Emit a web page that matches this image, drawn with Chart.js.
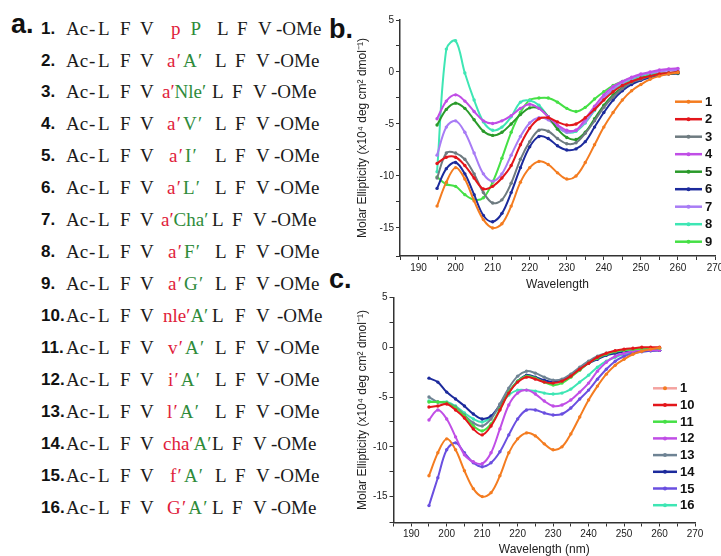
<!DOCTYPE html>
<html><head><meta charset="utf-8">
<script src="https://cdn.jsdelivr.net/npm/chart.js@4/dist/chart.umd.min.js"></script>
<style>
html,body{margin:0;padding:0;width:721px;height:556px;overflow:hidden;background:#fff;}
#wrap{position:relative;width:721px;height:556px;overflow:hidden;}
canvas{position:absolute;}
.lbl{position:absolute;font:bold 27px "Liberation Sans",Arial,sans-serif;line-height:27px;color:#111;}
.row{position:absolute;left:0;height:20px;width:340px;}
.row span.t{position:absolute;top:0;line-height:20px;white-space:nowrap;}
.num{font:bold 17px "Liberation Sans",Arial,sans-serif;color:#111;}
.seq{font:19px "Liberation Serif","Times New Roman",serif;color:#1a1a1a;}
.r{color:#e0203a}.g{color:#2e8b3a}
</style></head>
<body><div id="wrap">
<div class="lbl" style="left:11px;top:10.5px">a.</div>
<div class="lbl" style="left:329px;top:15.5px">b.</div>
<div class="lbl" style="left:329px;top:265.5px">c.</div>
<div id="seqs"></div>
<canvas id="cb" width="366" height="292" style="left:355px;top:0"></canvas>
<canvas id="cc" width="366" height="267" style="left:355px;top:290px"></canvas>
</div>
<script>
// ---------- peptide list (panel a) ----------
const pepNumbers = ['1.','2.','3.','4.','5.','6.','7.','8.','9.','10.','11.','12.','13.','14.','15.','16.'];
const redResidue = ['p','a′','a′','a′','a′','a′','a′','a′','a′','nle′','v′','i′','l′','cha′','f′','G′'];
const greenResidue = ['P','A′','Nle′','V′','I′','L′','Cha′','F′','G′','A′','A′','A′','A′','A′','A′','A′'];

// ---------- CD data (panels b, c) ----------
const wavelengths = [195,197.5,200,202.5,205,207.5,210,212.5,215,217.5,220,222.5,225,227.5,230,232.5,235,237.5,240,242.5,245,247.5,250,252.5,255,257.5,260];
const p1  = [-12.9,-10.6,-9.2,-10.3,-12.4,-14.2,-15.0,-14.6,-12.9,-10.6,-9.2,-8.6,-8.9,-9.7,-10.3,-10.0,-8.7,-7.0,-5.3,-3.9,-2.7,-1.8,-1.2,-0.7,-0.4,-0.2,-0.05];
const p2  = [-8.8,-8.2,-8.2,-9.0,-10.2,-11.25,-11.0,-10.2,-9.0,-7.0,-5.4,-4.5,-4.4,-4.8,-5.1,-5.0,-4.4,-3.6,-2.7,-1.9,-1.3,-0.9,-0.6,-0.4,-0.2,-0.1,0.0];
const p3  = [-10.2,-7.8,-7.8,-8.4,-9.8,-11.6,-12.6,-12.3,-10.7,-8.4,-6.7,-5.6,-5.7,-6.4,-6.9,-6.8,-5.9,-4.7,-3.4,-2.4,-1.6,-1.0,-0.7,-0.4,-0.25,-0.1,0.0];
const p4  = [-4.5,-2.8,-2.2,-2.8,-3.8,-4.7,-4.95,-4.7,-4.2,-3.5,-3.1,-3.5,-4.3,-5.1,-5.6,-5.6,-4.5,-3.3,-2.2,-1.4,-0.9,-0.5,-0.2,0.0,0.2,0.3,0.35];
const p5  = [-5.1,-3.6,-3.0,-3.5,-4.6,-5.7,-6.1,-5.8,-5.0,-4.1,-3.45,-3.5,-4.3,-5.5,-6.3,-6.5,-5.8,-4.5,-3.2,-2.2,-1.5,-1.0,-0.6,-0.4,-0.25,-0.15,-0.1];
const p6  = [-11.2,-9.3,-8.7,-9.8,-11.8,-13.8,-14.4,-13.6,-11.6,-9.2,-7.2,-6.2,-6.4,-7.1,-7.5,-7.4,-6.7,-5.3,-3.9,-2.7,-1.8,-1.2,-0.8,-0.5,-0.3,-0.2,-0.15];
const p7  = [-8.0,-5.3,-4.7,-5.8,-7.8,-9.8,-10.5,-9.8,-8.0,-6.2,-4.9,-4.4,-4.6,-5.3,-5.8,-5.6,-4.8,-3.6,-2.5,-1.6,-1.0,-0.6,-0.3,-0.1,0.05,0.15,0.2];
const p8  = [-9.6,2.2,3.0,-0.1,-2.7,-4.8,-5.6,-5.3,-4.3,-2.9,-2.75,-3.2,-4.3,-5.3,-5.8,-5.7,-4.9,-3.7,-2.6,-1.8,-1.2,-0.8,-0.5,-0.3,-0.2,-0.1,-0.05];
const p9  = [-10.1,-10.8,-11.0,-11.8,-12.3,-12.1,-10.6,-8.3,-5.8,-3.9,-2.7,-2.5,-2.5,-2.9,-3.5,-3.8,-3.4,-2.6,-1.9,-1.3,-0.9,-0.6,-0.4,-0.25,-0.15,-0.1,-0.1];
const p10 = [-6.0,-5.9,-5.7,-6.3,-7.1,-8.2,-8.8,-7.9,-6.3,-4.6,-3.5,-3.0,-3.2,-3.5,-3.6,-3.4,-2.9,-2.2,-1.6,-1.0,-0.6,-0.35,-0.2,-0.1,0.0,0.0,0.0];
const p11 = [-5.5,-5.5,-5.6,-6.1,-6.9,-7.9,-8.4,-7.7,-6.2,-4.5,-3.4,-2.9,-3.1,-3.5,-3.8,-3.6,-3.0,-2.3,-1.6,-1.1,-0.7,-0.45,-0.3,-0.2,-0.15,-0.1,-0.1];
const p12 = [-7.3,-6.3,-7.2,-9.0,-10.8,-11.5,-11.7,-10.6,-8.2,-5.8,-4.6,-4.3,-4.7,-5.4,-5.9,-5.8,-5.3,-4.5,-3.6,-2.4,-1.5,-0.9,-0.6,-0.4,-0.3,-0.3,-0.3];
const p13 = [-5.0,-5.5,-5.6,-6.0,-6.8,-7.6,-7.9,-7.2,-5.7,-4.1,-2.9,-2.4,-2.6,-3.0,-3.3,-3.2,-2.7,-2.0,-1.4,-0.9,-0.6,-0.4,-0.25,-0.2,-0.15,-0.1,-0.1];
const p14 = [-3.1,-3.5,-4.5,-5.2,-5.9,-6.7,-7.2,-6.9,-5.8,-4.5,-3.4,-2.8,-3.0,-3.3,-3.5,-3.3,-2.8,-2.2,-1.6,-1.2,-0.8,-0.6,-0.45,-0.4,-0.35,-0.3,-0.3];
const p15 = [-15.9,-13.1,-10.3,-9.6,-10.6,-11.6,-12.0,-11.6,-10.5,-8.8,-7.2,-6.3,-6.3,-6.6,-6.8,-6.7,-6.1,-5.2,-4.3,-3.2,-2.2,-1.4,-0.9,-0.6,-0.45,-0.35,-0.3];
const p16 = [-5.4,-5.5,-5.5,-5.9,-6.6,-7.2,-7.5,-7.0,-5.9,-4.8,-4.3,-4.3,-4.4,-4.6,-4.7,-4.6,-4.2,-3.5,-2.8,-2.0,-1.4,-1.0,-0.7,-0.5,-0.4,-0.35,-0.3];

const labelsB = ['1','2','3','4','5','6','7','8','9'];
const seriesB = [p1,p2,p3,p4,p5,p6,p7,p8,p9];
const colorsB = ['#f47c20','#e3161b','#6e7b80','#c04ee6','#2a9a2a','#1c2a9c','#a87cf5','#3ee6b4','#45e045'];
const labelsC = ['1','10','11','12','13','14','15','16'];
const seriesC = [p1,p10,p11,p12,p13,p14,p15,p16];
const colorsC = ['#f47c20','#e3161b','#45e045','#c04ee6','#6e8394','#1c2a9c','#6a4fe0','#3ee6b4'];
const legendColorsC = ['#f4a3a0','#e3161b','#45e045','#c04ee6','#6e8394','#1c2a9c','#6a4fe0','#3ee6b4'];

// ---------- panel a layout ----------
(function(){
  const midX = [171,167,162,167,169,167,161,168,168,163,168,168,167,163,170,167];
  const greenGap = [10,1,0,1,1,1,0,1,1,0,1,1,1,0,1,1];
  const spacing = [0,1.2,0,1.2,1.2,1.2,0,1.2,1.2,0,1.2,1.2,1.2,0,1.2,1.2];
  const sufX = [217,215,212,215,215,215,212,215,215,212,215,215,215,212,215,212];
  const host = document.getElementById('seqs');
  pepNumbers.forEach((n,i)=>{
    const yc = 28.6 + 31.94*i;
    const row = document.createElement('div');
    row.className = 'row';
    row.style.top = (yc-10)+'px';
    let h = `<span class="t num" style="left:41px">${n}</span>`;
    h += `<span class="t seq" style="left:66px">Ac</span><span class="t seq" style="left:89px">-</span>`;
    h += `<span class="t seq" style="left:98px">L</span><span class="t seq" style="left:120px">F</span><span class="t seq" style="left:140px">V</span>`;
    h += `<span class="t seq" style="left:${midX[i]}px;letter-spacing:${spacing[i]}px"><span class="r">${redResidue[i]}</span><span class="g" style="margin-left:${greenGap[i]}px">${greenResidue[i]}</span></span>`;
    const s = sufX[i];
    const extra = i===9 ? 3 : 0;
    h += `<span class="t seq" style="left:${s}px">L</span><span class="t seq" style="left:${s+20+extra}px">F</span><span class="t seq" style="left:${s+41+extra}px">V</span>`;
    h += `<span class="t seq" style="left:${s+59+extra*2}px">-OMe</span>`;
    row.innerHTML = h;
    host.appendChild(row);
  });
})();

// ---------- charts ----------
const FONT = '"Liberation Sans", Arial, sans-serif';
Chart.defaults.font.family = FONT;
Chart.defaults.color = '#222';

const sideLegend = {
  id: 'sideLegend',
  afterDatasetsDraw(chart, args, opts) {
    const ctx = chart.ctx;
    ctx.save();
    chart.data.datasets.forEach((ds, i) => {
      const y = opts.y0 + i * opts.step;
      ctx.strokeStyle = ds.legendColor || ds.borderColor;
      ctx.lineWidth = 2.5;
      ctx.beginPath(); ctx.moveTo(opts.x1, y); ctx.lineTo(opts.x2, y); ctx.stroke();
      ctx.fillStyle = ds.borderColor;
      ctx.beginPath(); ctx.arc((opts.x1 + opts.x2) / 2, y, 2, 0, Math.PI * 2); ctx.fill();
      ctx.fillStyle = '#111';
      ctx.font = 'bold 13px ' + FONT;
      ctx.textBaseline = 'middle';
      ctx.textAlign = 'left';
      ctx.fillText(ds.label, opts.x2 + 3, y + 0.5);
    });
    ctx.restore();
  }
};

function makeDatasets(labels, series, colors, legendColors) {
  return series.map((vals, k) => ({
    label: labels[k],
    data: vals.map((v, i) => ({ x: wavelengths[i], y: v })),
    borderColor: colors[k],
    backgroundColor: colors[k],
    pointBackgroundColor: colors[k],
    pointBorderWidth: 0,
    pointRadius: 1.7,
    borderWidth: 2,
    tension: 0.35,
    fill: false,
    legendColor: legendColors ? legendColors[k] : colors[k]
  }));
}

function makeScales(xTitle, yMin, yWidth, xHeight) {
  return {
    x: {
      type: 'linear', min: 185, max: 270,
      afterFit(s) { s.height = xHeight; s.paddingLeft = 0; s.paddingRight = 0; },
      ticks: { stepSize: 5, autoSkip: false, maxRotation: 0, color: '#222', padding: 2,
        font: { size: 10 }, callback: v => Math.abs(v % 10) < 1e-6 ? String(v) : '' },
      grid: { drawOnChartArea: false, drawTicks: true, tickLength: 4, color: '#333' },
      border: { display: true, color: '#333', width: 1.5 },
      title: { display: true, text: xTitle, color: '#222', font: { size: 12 }, padding: { top: 0, bottom: 0 } }
    },
    y: {
      type: 'linear', min: yMin, max: 5,
      afterFit(s) { s.width = yWidth; s.paddingTop = 0; s.paddingBottom = 0; },
      ticks: { stepSize: 2.5, autoSkip: false, color: '#222', padding: 2,
        font: { size: 10 }, callback: v => Math.abs(v % 5) < 1e-6 ? String(Math.round(v)) : '' },
      grid: { drawOnChartArea: false, drawTicks: true, tickLength: 4, color: '#333' },
      border: { display: true, color: '#333', width: 1.5 },
      title: { display: true, text: 'Molar Ellipticity (x10⁴ deg cm² dmol⁻¹)', color: '#222',
        font: { size: 12 }, padding: { top: 0, bottom: 0 } }
    }
  };
}

new Chart(document.getElementById('cb'), {
  type: 'line',
  data: { datasets: makeDatasets(labelsB, seriesB, colorsB) },
  options: {
    responsive: false, animation: false, devicePixelRatio: 1,
    layout: { padding: { left: 0, right: 6, top: 20, bottom: 0 } },
    scales: makeScales('Wavelength', -17.7, 45, 36),
    plugins: {
      legend: { display: false }, tooltip: { enabled: false },
      sideLegend: { x1: 320, x2: 347, y0: 101.7, step: 17.5 }
    }
  },
  plugins: [sideLegend]
});

new Chart(document.getElementById('cc'), {
  type: 'line',
  data: { datasets: makeDatasets(labelsC, seriesC, colorsC, legendColorsC) },
  options: {
    responsive: false, animation: false, devicePixelRatio: 1,
    layout: { padding: { left: 0, right: 26, top: 7.5, bottom: 0 } },
    scales: makeScales('Wavelength (nm)', -17.6, 38.5, 34.5),
    plugins: {
      legend: { display: false }, tooltip: { enabled: false },
      sideLegend: { x1: 298, x2: 322, y0: 98.3, step: 16.7 }
    }
  },
  plugins: [sideLegend]
});
</script>
</body></html>
